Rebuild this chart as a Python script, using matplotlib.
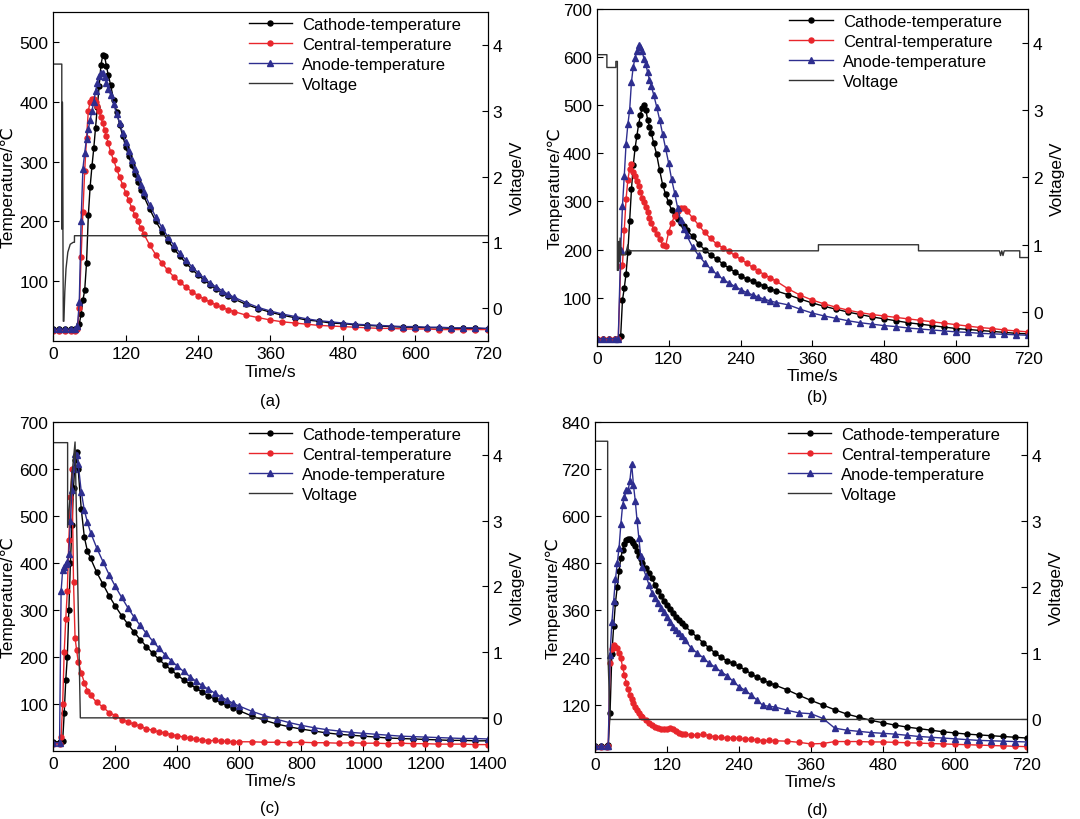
import matplotlib
matplotlib.use("Agg")
import matplotlib.pyplot as plt

plt.rcParams['font.family'] = ['Liberation Sans', 'DejaVu Sans']
plt.rcParams['font.size'] = 12

# ---------------- panel (a) ----------------
t_ab = [0, 10, 20, 30, 36,
        40, 43, 46, 49, 52, 55, 58, 61, 64, 67, 70, 73, 76, 79, 82, 85, 88, 91,
        95, 100, 105, 110, 115, 120, 125, 130, 135, 140, 145,
        150, 160, 170, 180, 190, 200, 210, 220, 230, 240, 250, 260, 270, 280, 290,
        300, 320, 340, 360, 380, 400, 420, 440, 460, 480, 500, 520, 540, 560, 580, 600, 620, 640, 660, 680, 700, 720]

cathode_a = [20, 20, 20, 20, 20,
             21, 28, 45, 68, 85, 130, 210, 258, 292, 322, 357, 392, 427, 462, 478, 476, 460, 445,
             428, 403, 383, 362, 343, 325, 309, 294, 280, 266, 253,
             242, 220, 200, 183, 168, 154, 142, 130, 120, 110, 102, 94, 87, 81, 75,
             70, 61, 54, 48, 43, 39, 35, 33, 30, 29, 27, 26, 25, 24, 23, 23, 22, 22, 21, 21, 21, 20]
central_a = [17, 17, 17, 17, 17,
             20, 55, 140, 215, 285, 340, 385, 400, 405, 404, 400, 393, 384, 374, 364, 353, 342, 331,
             316, 302, 288, 274, 261, 248, 235, 223, 211, 200, 189,
             179, 160, 144, 130, 118, 107, 98, 90, 82, 76, 70, 65, 60, 56, 52,
             49, 43, 39, 35, 32, 30, 28, 26, 25, 24, 23, 22, 21, 21, 20, 20, 20, 19, 19, 19, 19, 19]
anode_a = [20, 20, 20, 20, 20,
           25, 65, 200, 288, 315, 338, 355, 370, 385, 400, 418, 432, 443, 449, 448, 442, 432, 421,
           412, 396, 380, 364, 348, 332, 317, 302, 288, 274, 261,
           249, 227, 207, 190, 174, 160, 147, 135, 124, 114, 105, 97, 90, 84, 78,
           73, 64, 56, 50, 45, 41, 37, 34, 32, 30, 28, 27, 26, 25, 24, 24, 23, 23, 22, 22, 22, 21]
vt_a = [0, 14, 14, 15, 15, 16.5, 17.5, 19, 21, 24, 28, 33, 35, 35, 720]
vv_a = [3.71, 3.71, 1.2, 1.2, 3.13, -0.2, -0.2, 0.25, 0.6, 0.85, 0.97, 1.0, 1.0, 1.1, 1.1]

# ---------------- panel (b) ----------------
cathode_b = [15, 15, 15, 15, 15,
             20, 95, 120, 150, 195, 260, 325, 375, 410, 436, 460, 480, 495, 500, 490, 470, 455, 443,
             422, 398, 365, 335, 315, 298, 282, 272, 264, 256, 248,
             240, 228, 212, 200, 189, 180, 171, 162, 154, 146, 139, 134, 129, 124, 118,
             114, 106, 97, 89, 82, 76, 70, 65, 60, 56, 52, 48, 45, 42, 39, 36, 34, 32, 30, 28, 26, 25]
central_b = [15, 15, 15, 15, 15,
             165, 167, 240, 305, 345, 368, 377, 362, 352, 342, 332, 320, 308, 298, 288, 277, 266, 255,
             243, 232, 222, 210, 207, 236, 255, 270, 280, 287, 287,
             281, 266, 251, 236, 223, 212, 204, 197, 188, 180, 172, 163, 155, 148, 141,
             134, 118, 105, 95, 87, 80, 74, 69, 65, 62, 59, 56, 53, 50, 47, 44, 41, 38, 36, 33, 31, 29]
anode_b = [15, 15, 15, 15, 15,
           200, 290, 353, 420, 460, 490, 548, 580, 598, 612, 625, 620, 612, 595, 585, 568, 553, 540,
           522, 497, 470, 440, 410, 380, 346, 318, 287, 262, 243,
           230, 205, 188, 173, 160, 149, 139, 131, 124, 117, 111, 106, 101, 97, 93,
           90, 85, 76, 68, 62, 57, 52, 48, 45, 42, 40, 37, 35, 33, 31, 29, 28, 26, 25, 24, 23, 22]
vt_b = [0, 17, 17, 32, 32, 34.5, 34.5, 36, 37, 38, 39, 41, 48, 52, 53,
        370, 370, 537, 537, 672, 674, 676, 678, 680, 682, 706, 706, 720]
vv_b = [3.82, 3.82, 3.63, 3.63, 3.72, 3.72, 0.62, 0.62, 1.05, 0.75, 1.1, 0.85, 0.85, 1.0, 0.91,
        0.91, 1.0, 1.0, 0.91, 0.91, 0.84, 0.91, 0.84, 0.91, 0.91, 0.91, 0.81, 0.81]

# ---------------- panel (c) ----------------
t_c = [0, 20, 25,
       30, 35, 40, 45, 50, 55, 60, 65, 70, 75, 80,
       90, 100, 110,
       120, 140, 160, 180, 200, 220, 240, 260, 280, 300, 320, 340, 360, 380, 400, 420, 440, 460, 480, 500,
       520, 540, 560, 580, 600,
       640, 680, 720, 760, 800, 840, 880, 920, 960, 1000, 1040, 1080, 1120, 1160, 1200, 1240, 1280, 1320,
       1360, 1400]
cathode_c = [19, 19, 19,
             20, 80, 150, 200, 300, 400, 480, 560, 620, 637, 600,
             515, 455, 425,
             410, 380, 355, 330, 308, 288, 270, 253, 237, 222, 208, 195, 183, 172, 161, 151, 142, 133, 125, 117,
             110, 103, 97, 91, 85,
             74, 65, 57, 51, 46, 42, 38, 35, 33, 31, 29, 27, 26, 25, 24, 23, 22, 22,
             21, 21]
central_c = [15, 15, 30,
             100, 210, 280, 340, 450, 540, 600, 360, 240, 215, 190,
             166, 145, 128,
             118, 103, 93, 81, 75, 66, 62, 56, 53, 46, 44, 40, 38, 34, 32, 29, 27, 24, 23, 21,
             22, 20, 20, 19, 19,
             19, 18, 18, 17, 18, 17, 17, 16, 17, 16, 16, 15, 16, 15, 15, 14, 14, 14,
             13, 13]
anode_c = [17, 17, 340,
           385, 392, 398, 402, 420, 490, 555, 600, 632, 630, 612,
           552, 512, 487,
           465, 432, 403, 375, 350, 327, 305, 285, 267, 250, 234, 219, 205, 192, 180, 169, 158, 148, 139, 131,
           123, 115, 108, 101, 95,
           84, 75, 67, 60, 54, 49, 45, 42, 39, 37, 35, 33, 31, 30, 29, 28, 27, 26,
           26, 25]
vt_c = [0, 46, 46, 58, 70, 87, 1400]
vv_c = [4.19, 4.19, 2.9, 3.6, 4.2, 0.0, 0.0]

# ---------------- panel (d) ----------------
t_d = [0, 10, 20,
       22, 25, 28, 31, 34, 37, 40, 43, 46, 49, 52, 55, 58, 61, 64, 67, 70, 73, 76, 79,
       85, 90, 95, 100, 105, 110, 115, 120, 125, 130, 135, 140, 145,
       150, 160, 170, 180, 190, 200, 210, 220, 230, 240, 250, 260, 270, 280, 290,
       300, 320, 340, 360, 380, 400, 420, 440, 460, 480, 500, 520, 540, 560, 580, 600, 620, 640, 660, 680, 700, 720]
cathode_d = [14, 14, 14,
             16, 100, 250, 320, 380, 420, 460, 495, 515, 530, 539, 542, 541, 538, 532, 525, 512, 500, 490, 482,
             467, 455, 442, 426, 410, 397, 384, 373, 363, 353, 344, 336, 328,
             320, 306, 292, 278, 265, 252, 241, 232, 225, 218, 209, 199, 190, 182, 176,
             170, 158, 144, 131, 119, 107, 96, 88, 80, 74, 68, 63, 59, 55, 51, 48, 45, 43, 41, 39, 37, 35]
central_d = [13, 13, 13,
             14, 226, 262, 272, 268, 264, 252, 238, 215, 196, 176, 160, 145, 135, 125, 114, 106, 98, 92, 88,
             80, 74, 68, 63, 60, 58, 58, 59, 60, 57, 52, 49, 46,
             45, 43, 42, 45, 41, 38, 37, 35, 36, 34, 33, 32, 30, 28, 29,
             28, 27, 24, 20, 21, 26, 26, 26, 25, 25, 24, 23, 22, 21, 20, 19, 18, 17, 16, 15, 14, 13]
anode_d = [14, 14, 14,
           15, 247, 330, 385, 440, 480, 520, 580, 630, 650, 666, 666, 690, 734, 680, 640, 590, 545, 500, 472,
           448, 425, 405, 391, 378, 366, 355, 343, 330, 318, 310, 303, 296,
           285, 265, 252, 240, 226, 216, 204, 194, 180, 166, 157, 145, 132, 118, 116,
           114, 106, 99, 97, 85, 60, 55, 52, 49, 47, 45, 42, 39, 37, 35, 33, 31, 29, 28, 27, 26, 25]
vt_d = [0, 21, 21, 25, 720]
vv_d = [4.21, 4.21, 1.1, -0.01, -0.01]

series_names = ['Cathode-temperature', 'Central-temperature', 'Anode-temperature', 'Voltage']


def draw_panel(rect, t, cath, cent, anod, vt, vv, xmax, xticks, ymax, yticks, label_x):
    ax = fig.add_axes(rect)
    l1, = ax.plot(t, cath, color='black', marker='o', ms=3.6, lw=1)
    l2, = ax.plot(t, cent, color='#e8262c', marker='o', ms=3.6, lw=1)
    l3, = ax.plot(t, anod, color='#2e2e8f', marker='^', ms=4.2, lw=1)
    ax.set_xlim(0, xmax)
    ax.set_ylim(0, ymax)
    ax.set_xticks(xticks)
    ax.set_yticks(yticks)
    ax.set_xlabel('Time/s', labelpad=2, fontsize=12.5)
    ax.set_ylabel('Temperature/℃', fontsize=12.5)
    ax.yaxis.set_label_coords(label_x, 0.47)
    ax.tick_params(direction='in', length=4, labelsize=12.5)

    axr = ax.twinx()
    l4, = axr.plot(vt, vv, color='#333333', lw=1)
    axr.set_ylim(-0.5, 4.5)
    axr.set_yticks([0, 1, 2, 3, 4])
    axr.set_ylabel('Voltage/V', fontsize=12.5)
    axr.yaxis.set_label_coords(1.051, 0.5)
    axr.tick_params(direction='in', length=4, labelsize=12.5)

    ax.legend([l1, l2, l3, l4], series_names, loc='upper right', bbox_to_anchor=(0.95, 1.0),
              frameon=False, fontsize=12, handlelength=2.6, labelspacing=0.3,
              borderaxespad=0, borderpad=0.3, handletextpad=0.6)
    return ax


fig = plt.figure(figsize=(10.8, 8.2), dpi=100)

draw_panel([0.0494, 0.583, 0.402, 0.401], t_ab, cathode_a, central_a, anode_a, vt_a, vv_a,
           720, range(0, 721, 120), 550, [100, 200, 300, 400, 500], -0.0875)
draw_panel([0.5525, 0.577, 0.3995, 0.411], t_ab, cathode_b, central_b, anode_b, vt_b, vv_b,
           720, range(0, 721, 120), 700, [100, 200, 300, 400, 500, 600, 700], -0.079)
draw_panel([0.0494, 0.0833, 0.402, 0.4005], t_c, cathode_c, central_c, anode_c, vt_c, vv_c,
           1400, range(0, 1401, 200), 700, [100, 200, 300, 400, 500, 600, 700], -0.0875)
draw_panel([0.551, 0.082, 0.3996, 0.402], t_d, cathode_d, central_d, anode_d, vt_d, vv_d,
           720, range(0, 721, 120), 840, [120, 240, 360, 480, 600, 720, 840], -0.079)

fig.text(0.25, 0.51, '(a)', ha='center', va='center', fontsize=12)
fig.text(0.7565, 0.515, '(b)', ha='center', va='center', fontsize=12)
fig.text(0.25, 0.0146, '(c)', ha='center', va='center', fontsize=12)
fig.text(0.7565, 0.012, '(d)', ha='center', va='center', fontsize=12)

fig.savefig('out.png', dpi=100)
